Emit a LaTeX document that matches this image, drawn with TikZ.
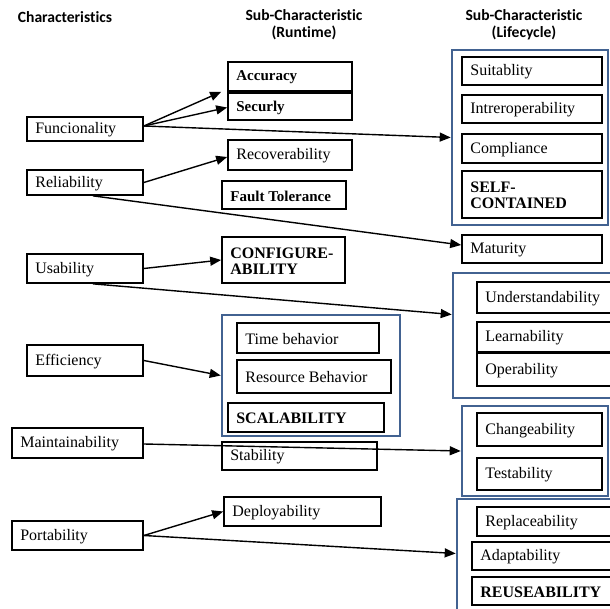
\documentclass[tikz,border=0pt]{standalone}
\usepackage{fontspec}
\setmainfont{Liberation Serif}
\newfontfamily\hdrfont[Ligatures=NoCommon]{Carlito}
\usetikzlibrary{arrows.meta,fit,calc}
\definecolor{frameblue}{RGB}{66,98,145}
\tikzset{
  boxst/.style={draw=black,line width=1.7pt,rectangle,inner sep=0pt},
  grpst/.style={draw=frameblue,line width=2.6pt,rectangle,inner sep=0pt},
  txt/.style={inner sep=0pt,align=left,font=\fontsize{16}{16}\selectfont},
  btxt/.style={txt,font=\fontsize{16}{16}\selectfont\bfseries},
  stxt/.style={txt,font=\fontsize{15}{16}\selectfont\bfseries},
  hdr/.style={inner sep=0pt,align=center,font=\hdrfont\fontsize{15.6}{17}\selectfont\bfseries},
  arr/.style={line width=1.4pt,-{Triangle[length=11pt,width=9pt]}},
}
\newcommand\mybox[7][txt]{%
  \node[boxst,fit={(#3,#4) (#5,#6)}] (#2) {};
  \node[#1,anchor=west] (#2t) at ([xshift=9pt,yshift=-1pt]#2.west) {#7};}
\newcommand\mygrp[5]{%
  \node[grpst,fit={(#2,#3) (#4,#5)}] (#1) {};}
\begin{document}
\begin{tikzpicture}[x=1pt,y=-1pt]
\useasboundingbox (0,0) rectangle (610,609);
% headers
\node[hdr] (h1) at (65,17) {Characteristics};
\node[hdr] (h2) at (304,25) {Sub-Characteristic\\(Runtime)};
\node[hdr] (h3) at (524,25) {Sub-Characteristic\\(Lifecycle)};
% left column
\mybox{func}{27}{117}{143}{141}{Funcionality}
\mybox{rel}{27}{170}{143}{195}{Reliability}
\mybox{usa}{27}{254}{143}{283}{Usability}
\mybox{eff}{27}{345}{143}{376}{Efficiency}
\mybox{mai}{12}{428}{143}{458}{Maintainability}
\mybox{por}{12}{521}{143}{550}{Portability}
% middle column
\mybox[stxt]{acc}{228}{62}{352}{91}{Accuracy}
\mybox[stxt]{sec}{228}{93}{352}{120}{Securly}
\mybox{rec}{228}{140}{352}{170}{Recoverability}
\mybox[stxt]{fault}{222}{181}{346}{209}{Fault Tolerance}
\mybox[btxt]{conf}{222}{237}{345}{283}{CONFIGURE-\\ABILITY}
\mygrp{effgrp}{222}{315}{400}{436}
\mybox{time}{237}{323}{379}{353}{Time behavior}
\mybox{res}{237}{360}{391}{393}{Resource Behavior}
\mybox[btxt]{scal}{228}{403}{384}{432}{SCALABILITY}
\mybox{stab}{222}{442}{377}{470}{Stability}
\mybox{dep}{224}{497}{381}{526}{Deployability}
% right column
\mygrp{lc1}{452}{50}{608}{225}
\mybox{suit}{462}{57}{602}{85}{Suitablity}
\mybox{inter}{462}{95}{602}{123}{Intreroperability}
\mybox{comp}{462}{134}{602}{163}{Compliance}
\mybox[btxt]{self}{462}{171}{602}{218}{SELF-\\CONTAINED}
\mybox{mat}{462}{235}{602}{263}{Maturity}
\mygrp{lc2}{453}{273}{616}{398}
\mybox{und}{477}{282}{616}{313}{Understandability}
\mybox{lea}{477}{322}{616}{352}{Learnability}
\mybox{ope}{477}{353}{616}{386}{Operability}
\mygrp{lc3}{462}{406}{608}{496}
\mybox{cha}{477}{413}{602}{446}{Changeability}
\mybox{tes}{477}{458}{602}{490}{Testability}
\mygrp{lc4}{457}{499}{616}{612}
\mybox{rep}{477}{507}{616}{536}{Replaceability}
\mybox{ada}{472}{542}{616}{570}{Adaptability}
\mybox[btxt]{reu}{472}{577}{616}{605}{REUSEABILITY}
% arrows
\draw[arr] ([yshift=3pt]func.east) -- ([xshift=-6pt]acc.south west);
\draw[arr] ([yshift=3pt]func.east) -- ([yshift=-1pt]sec.west);
\draw[arr] ([yshift=3pt]func.east) -- (lc1.west);
\draw[arr] (rel.east) -- ([yshift=-2pt]rec.west);
\draw[arr] ([xshift=8pt]rel.south) -- ([yshift=4pt]mat.west);
\draw[arr] (usa.east) -- (conf.west);
\draw[arr] ([xshift=8pt]usa.south) -- ([yshift=21pt]lc2.west);
\draw[arr] (eff.east) -- (effgrp.west);
\draw[arr] ([yshift=-1pt]mai.east) -- (lc3.west);
\draw[arr] (por.east) -- (dep.west);
\draw[arr] (por.east) -- ([yshift=2pt]lc4.west);
\end{tikzpicture}
\end{document}
